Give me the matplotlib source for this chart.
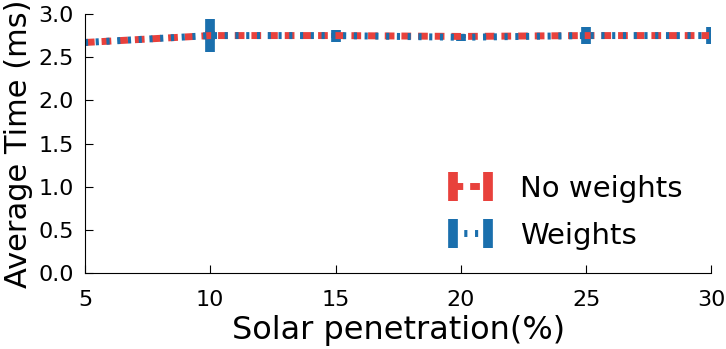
import numpy as np
import matplotlib.pyplot as plt

# Data
penetration = [5, 10, 15, 20, 25, 30]
no_weights = [2.67, 2.75, 2.75, 2.74, 2.75, 2.75]
no_weights_err = [0.02, 0.05, 0.03, 0.02, 0.03, 0.03]
weights = [2.67, 2.75, 2.75, 2.73, 2.75, 2.75]
weights_err = [0.01, 0.19, 0.07, 0.04, 0.10, 0.10]

red = '#e8413c'
blue = '#1a6fad'

fig, ax = plt.subplots(figsize=(7.26, 3.49), dpi=100)

ax.errorbar(penetration, no_weights, yerr=no_weights_err, color=red, linestyle='--',
            dashes=(1.4, 1.0), linewidth=5, elinewidth=7, capsize=0, label='No weights')
ax.errorbar(penetration, weights, yerr=weights_err, color=blue, linestyle=':',
            dashes=(0.45, 1.1), linewidth=5, elinewidth=7, capsize=0, label='Weights')

ax.set_xlim(5, 30)
ax.set_ylim(0, 3.0)
ax.set_xticks([5, 10, 15, 20, 25, 30])
ax.set_yticks(np.arange(0, 3.01, 0.5))
ax.yaxis.set_major_formatter(plt.FormatStrFormatter('%.1f'))
ax.tick_params(axis='x', pad=12)
ax.tick_params(axis='y', pad=8)
ax.tick_params(direction='in', labelsize=16, length=6, top=False, right=False)
for s in ['top', 'right']:
    ax.spines[s].set_visible(False)

ax.set_xlabel('Solar penetration(%)', fontsize=23, labelpad=4)
ax.set_ylabel('Average Time (ms)', fontsize=22, labelpad=4)

ax.legend(loc='lower right', fontsize=21, frameon=False, handlelength=1.8,
          numpoints=2, labelspacing=0.65, bbox_to_anchor=(0.996, -0.01))

fig.subplots_adjust(left=0.117, right=0.98, top=0.96, bottom=0.217)
fig.savefig('out.png', dpi=100)
